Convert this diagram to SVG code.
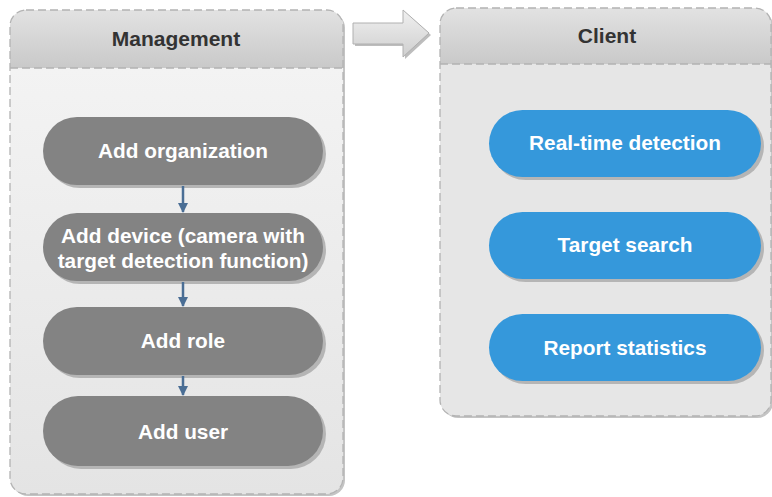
<svg xmlns="http://www.w3.org/2000/svg" width="772" height="497" viewBox="0 0 772 497">
<defs>
<linearGradient id="hdr" x1="0" y1="0" x2="0" y2="1">
<stop offset="0" stop-color="#e2e2e2"/><stop offset="1" stop-color="#c9c9c9"/>
</linearGradient>
<linearGradient id="bodyL" x1="0" y1="0" x2="0" y2="1">
<stop offset="0" stop-color="#f5f5f5"/><stop offset="1" stop-color="#e4e4e4"/>
</linearGradient>
<linearGradient id="bigArrow" x1="0" y1="0" x2="0" y2="1">
<stop offset="0" stop-color="#f0f0f0"/><stop offset="1" stop-color="#cfcfcf"/>
</linearGradient>
<clipPath id="clipL"><rect x="10" y="10" width="333" height="484" rx="16"/></clipPath>
<clipPath id="clipR"><rect x="440" y="8" width="331" height="408" rx="16"/></clipPath>
<marker id="ah" viewBox="0 0 10 10" refX="9" refY="5" markerWidth="4" markerHeight="4" orient="auto" markerUnits="strokeWidth">
<path d="M0,0 L10,5 L0,10 z" fill="#4a6e95"/>
</marker>
</defs>
<style>
.frame{fill:none;stroke:#b3b3b3;stroke-width:1.3;stroke-dasharray:8 4}
.title{font-family:"Liberation Sans",Arial,sans-serif;font-weight:bold;font-size:21px;fill:#333333;text-anchor:middle}
.lbl{font-family:"Liberation Sans",Arial,sans-serif;font-weight:bold;font-size:20.8px;fill:#ffffff;text-anchor:middle}
.shadow{fill:#b5b5b5}
.gray{fill:#838383}
.blue{fill:#3598db}
.conn{stroke:#4a6e95;stroke-width:2.5;fill:none;marker-end:url(#ah)}
</style>

<g id="management">
<rect x="12" y="12" width="333" height="484" rx="16" fill="#c4c4c4"/>
<g clip-path="url(#clipL)">
<rect x="10" y="10" width="333" height="484" fill="url(#bodyL)"/>
<rect x="10" y="10" width="333" height="58" fill="url(#hdr)"/>
</g>
<line x1="10" y1="68" x2="343" y2="68" class="frame"/>
<rect x="10" y="10" width="333" height="484" rx="16" class="frame"/>
<text x="176" y="46" class="title">Management</text>
</g>

<g id="client">
<rect x="442" y="10" width="331" height="408" rx="16" fill="#c4c4c4"/>
<g clip-path="url(#clipR)">
<rect x="440" y="8" width="331" height="408" fill="#e6e6e6"/>
<rect x="440" y="8" width="331" height="56" fill="url(#hdr)"/>
</g>
<line x1="440" y1="64" x2="771" y2="64" class="frame"/>
<rect x="440" y="8" width="331" height="408" rx="16" class="frame"/>
<text x="607" y="43" class="title">Client</text>
</g>

<g id="flow-arrow">
<path d="M355,25 L405,25 L405,12 L431,35 L405,59 L405,46 L355,46 z" fill="#bdbdbd"/>
<path d="M353,23 L403,23 L403,10 L429,33 L403,57 L403,44 L353,44 z" fill="url(#bigArrow)" stroke="#b0b0b0" stroke-width="1"/>
</g>

<g id="add-organization">
<rect x="46" y="120" width="280" height="68" rx="34" class="shadow"/>
<rect x="43" y="117" width="280" height="68" rx="34" class="gray"/>
<text x="183" y="158" class="lbl">Add organization</text>
</g>
<g id="add-device">
<rect x="46" y="216" width="280" height="68" rx="34" class="shadow"/>
<rect x="43" y="213" width="280" height="68" rx="34" class="gray"/>
<text x="183" y="243" class="lbl">Add device (camera with</text>
<text x="183" y="268" class="lbl">target detection function)</text>
</g>
<g id="add-role">
<rect x="46" y="310" width="280" height="68" rx="34" class="shadow"/>
<rect x="43" y="307" width="280" height="68" rx="34" class="gray"/>
<text x="183" y="348" class="lbl">Add role</text>
</g>
<g id="add-user">
<rect x="46" y="399" width="280" height="70" rx="35" class="shadow"/>
<rect x="43" y="396" width="280" height="70" rx="35" class="gray"/>
<text x="183" y="439" class="lbl">Add user</text>
</g>

<g id="real-time-detection">
<rect x="492" y="113" width="272" height="67" rx="33.5" class="shadow"/>
<rect x="489" y="110" width="272" height="67" rx="33.5" class="blue"/>
<text x="625" y="150" class="lbl">Real-time detection</text>
</g>
<g id="target-search">
<rect x="492" y="215" width="272" height="67" rx="33.5" class="shadow"/>
<rect x="489" y="212" width="272" height="67" rx="33.5" class="blue"/>
<text x="625" y="252" class="lbl">Target search</text>
</g>
<g id="report-statistics">
<rect x="492" y="317" width="272" height="67" rx="33.5" class="shadow"/>
<rect x="489" y="314" width="272" height="67" rx="33.5" class="blue"/>
<text x="625" y="355" class="lbl">Report statistics</text>
</g>

<g id="connectors">
<line x1="183" y1="186" x2="183" y2="212" class="conn"/>
<line x1="183" y1="282" x2="183" y2="306" class="conn"/>
<line x1="183" y1="376" x2="183" y2="395" class="conn"/>
</g>
</svg>
